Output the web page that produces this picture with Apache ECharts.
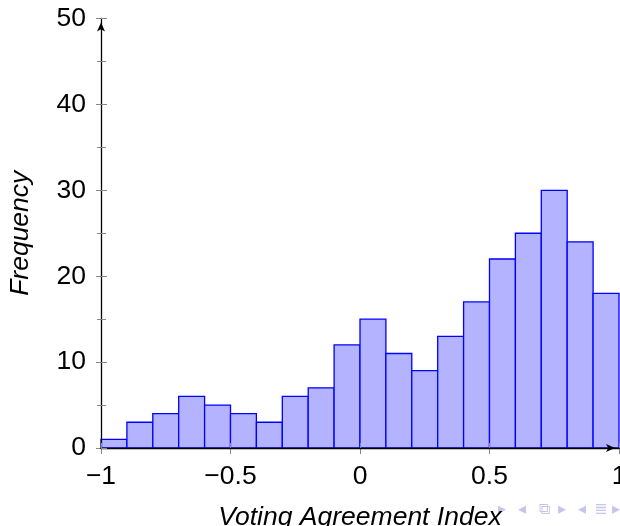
<!DOCTYPE html>
<html>
<head>
<meta charset="utf-8">
<script src="https://cdn.jsdelivr.net/npm/echarts@6/dist/echarts.min.js"></script>
<style>html,body{margin:0;padding:0;background:#fff}#c{width:620px;height:526px}</style>
</head>
<body>
<div id="c"></div>
<script>
// Histogram data
const binStarts = [-1.0,-0.9,-0.8,-0.7,-0.6,-0.5,-0.4,-0.3,-0.2,-0.1,0.0,0.1,0.2,0.3,0.4,0.5,0.6,0.7,0.8,0.9];
const binWidth = 0.1;
const frequencies = [1,3,4,6,5,4,3,6,7,12,15,11,9,13,17,22,25,30,24,18];
const xTickLabels = {'-1':'\u22121','-0.5':'\u22120.5','0':'0','0.5':'0.5','1':'1'};
const xTitle = 'Voting Agreement Index';
const yTitle = 'Frequency';

const FONT = '"Liberation Sans", Arial, sans-serif';
const chart = echarts.init(document.getElementById('c'));
const data = binStarts.map((s, i) => [s, s + binWidth, frequencies[i]]);

const fmtX = v => { const k = String(Math.round(v * 10) / 10); return xTickLabels[k] !== undefined ? xTickLabels[k] : k; };

const navColor = '#c6c6ec';
const nav = [
  {x: 505, t: '\u25B8'}, {x: 525, t: '\u25C2'}, {x: 546, t: '\u29C9'}, {x: 565, t: '\u25B8'},
  {x: 585, t: '\u25C2'}, {x: 601, t: '\u2263'}, {x: 619, t: '\u25B8'}
];

chart.setOption({
  animation: false,
  grid: {left: 101, right: 1, top: 18.5, bottom: 78, containLabel: false, outerBoundsMode: 'none'},
  xAxis: [{
    type: 'value', min: -1, max: 1, interval: 0.5, z: 5,
    axisLine: {show: true, lineStyle: {color: '#000', width: 1.3}, symbol: ['none', 'arrow'], symbolSize: [6, 9], symbolOffset: [0, -4], onZero: false},
    axisTick: {show: true, inside: true, length: 5, lineStyle: {color: '#888', width: 1}},
    splitLine: {show: false},
    axisLabel: {formatter: fmtX, fontSize: 26.5, color: '#000', fontFamily: FONT, margin: 15, showMaxLabel: true, showMinLabel: true},
    name: xTitle, nameLocation: 'middle', nameGap: 56,
    nameTextStyle: {fontSize: 26.5, fontStyle: 'italic', color: '#000', fontFamily: FONT}
  }, {
    type: 'value', min: -1, max: 1, interval: 0.5, position: 'bottom',
    axisLine: {show: false, onZero: false}, axisLabel: {show: false}, splitLine: {show: false},
    axisTick: {show: true, inside: false, length: 6, lineStyle: {color: '#888', width: 1}}
  }],
  yAxis: [{
    type: 'value', min: 0, max: 50, interval: 10, z: 5,
    axisLine: {show: true, lineStyle: {color: '#000', width: 1.3}, symbol: ['none', 'arrow'], symbolSize: [6, 9], symbolOffset: [0, -4], onZero: false},
    axisTick: {show: true, inside: true, length: 6, lineStyle: {color: '#888', width: 1}},
    minorTick: {show: true, splitNumber: 2, length: 5, lineStyle: {color: '#888', width: 1}},
    splitLine: {show: false},
    axisLabel: {fontSize: 26.5, color: '#000', fontFamily: FONT, margin: 15},
    name: yTitle, nameLocation: 'middle', nameGap: 67, nameRotate: 90,
    nameTextStyle: {fontSize: 26.5, fontStyle: 'italic', color: '#000', fontFamily: FONT}
  }, {
    type: 'value', min: 0, max: 50, interval: 10, position: 'left',
    axisLine: {show: false, onZero: false}, axisLabel: {show: false}, splitLine: {show: false},
    axisTick: {show: true, inside: false, length: 5, lineStyle: {color: '#888', width: 1}},
    minorTick: {show: true, splitNumber: 2, length: 4, lineStyle: {color: '#888', width: 1}}
  }],
  series: [{
    type: 'custom',
    xAxisIndex: 0, yAxisIndex: 0,
    clip: false,
    renderItem: function (params, api) {
      const p0 = api.coord([api.value(0), 0]);
      const p1 = api.coord([api.value(1), api.value(2)]);
      return {
        type: 'rect',
        shape: {x: p0[0], y: p1[1], width: p1[0] - p0[0], height: p0[1] - p1[1]},
        style: {fill: '#b3b3ff', stroke: '#0000ff', lineWidth: 1.3}
      };
    },
    encode: {x: [0, 1], y: 2},
    data: data,
    z: 1
  }],
  graphic: nav.map(n => ({
    type: 'text', left: n.x - 7, top: 502,
    style: {text: n.t, fill: navColor, fontSize: 16, fontFamily: '"DejaVu Sans", sans-serif'}
  }))
});
</script>
</body>
</html>
